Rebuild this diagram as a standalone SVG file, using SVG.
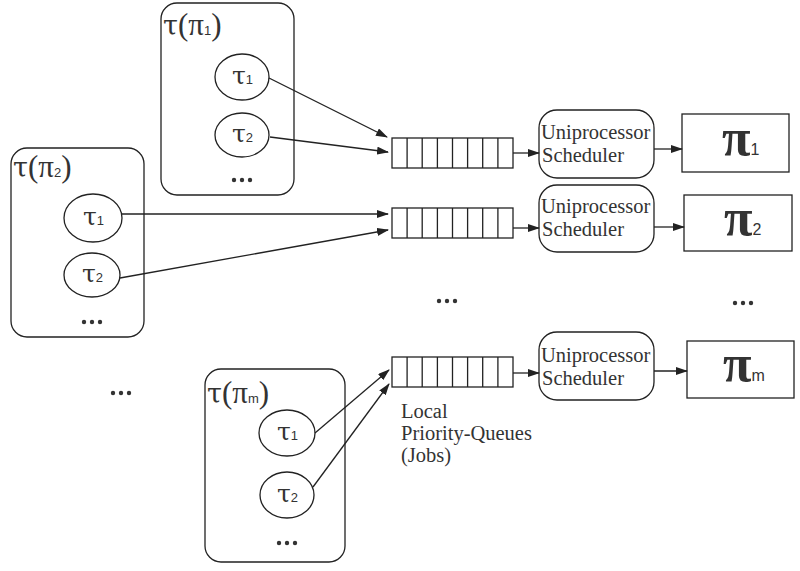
<svg xmlns="http://www.w3.org/2000/svg" width="800" height="571" viewBox="0 0 800 571">
<style>
.box{fill:none;stroke:#222;stroke-width:1.3}
.ln{fill:none;stroke:#222;stroke-width:1.3}
.t{font-family:"Liberation Serif",serif;fill:#333}
.g{font-family:"DejaVu Serif",serif;fill:#333}
.s{font-family:"Liberation Sans",sans-serif;fill:#333}
.grp{font-size:27px}
.gp{font-family:"Liberation Serif",serif;font-size:31px}
.tau{font-size:25px}
.sub{font-size:13px}
.sch{font-size:20.5px}
.pi{font-size:52px;font-weight:bold}
.psub{font-family:"Liberation Sans",sans-serif;font-size:16px;font-weight:normal}
.dots{fill:#333}
</style>
<defs>
<marker id="ah" markerWidth="12" markerHeight="8" refX="11" refY="4" orient="auto" markerUnits="userSpaceOnUse">
<path d="M0,0 L12,4 L0,8 Z" fill="#222"/>
</marker>
<g id="q">
<rect x="0" y="0" width="121" height="30" class="box"/>
<path class="ln" d="M15.1,0V30M30.2,0V30M45.4,0V30M60.5,0V30M75.6,0V30M90.7,0V30M105.9,0V30"/>
</g>
<g id="dd"><circle cx="-8" cy="0" r="2.2"/><circle cx="0" cy="0" r="2.2"/><circle cx="8" cy="0" r="2.2"/></g>
</defs>

<g id="tasks1">
<rect x="161" y="3" width="133" height="192" rx="16" class="box"/>
<text x="163" y="35" class="g grp">τ<tspan class="gp">(π</tspan><tspan class="s sub">1</tspan><tspan class="gp">)</tspan></text>
<ellipse cx="242" cy="77" rx="27" ry="23" class="box"/>
<text x="232" y="84" class="g tau">τ<tspan class="s sub">1</tspan></text>
<ellipse cx="242" cy="135" rx="27" ry="22" class="box"/>
<text x="232" y="142" class="g tau">τ<tspan class="s sub">2</tspan></text>
<use href="#dd" x="242" y="180" class="dots"/>
</g>

<g id="tasks2">
<rect x="11" y="148" width="133" height="189" rx="16" class="box"/>
<text x="13" y="177" class="g grp">τ<tspan class="gp">(π</tspan><tspan class="s sub">2</tspan><tspan class="gp">)</tspan></text>
<ellipse cx="93" cy="218" rx="29" ry="24" class="box"/>
<text x="83" y="225" class="g tau">τ<tspan class="s sub">1</tspan></text>
<ellipse cx="92" cy="275" rx="28" ry="22" class="box"/>
<text x="82" y="282" class="g tau">τ<tspan class="s sub">2</tspan></text>
<use href="#dd" x="92" y="322" class="dots"/>
</g>

<g id="tasksm">
<rect x="205" y="369" width="140" height="193" rx="16" class="box"/>
<text x="207" y="403" class="g grp">τ<tspan class="gp">(π</tspan><tspan class="s sub">m</tspan><tspan class="gp">)</tspan></text>
<ellipse cx="287" cy="433" rx="28" ry="23" class="box"/>
<text x="277" y="440" class="g tau">τ<tspan class="s sub">1</tspan></text>
<ellipse cx="287" cy="495" rx="27" ry="23" class="box"/>
<text x="277" y="502" class="g tau">τ<tspan class="s sub">2</tspan></text>
<use href="#dd" x="287" y="543" class="dots"/>
</g>

<g id="queue1"><use href="#q" x="392" y="138"/></g>
<g id="queue2"><use href="#q" x="392" y="208"/></g>
<g id="queue3"><use href="#q" x="392" y="357"/></g>

<g id="sched1">
<rect x="539" y="110" width="115" height="68" rx="18" class="box"/>
<text x="541" y="139" class="t sch">Uniprocessor</text>
<text x="542" y="162" class="t sch">Scheduler</text>
</g>
<g id="sched2">
<rect x="539" y="185" width="115" height="67" rx="18" class="box"/>
<text x="541" y="213" class="t sch">Uniprocessor</text>
<text x="542" y="236" class="t sch">Scheduler</text>
</g>
<g id="sched3">
<rect x="539" y="332" width="115" height="68" rx="18" class="box"/>
<text x="541" y="362" class="t sch">Uniprocessor</text>
<text x="542" y="385" class="t sch">Scheduler</text>
</g>

<g id="proc1">
<rect x="682" y="114" width="107" height="58" class="box"/>
<text x="722" y="155" class="t pi">π<tspan class="psub">1</tspan></text>
</g>
<g id="proc2">
<rect x="684" y="195" width="108" height="56" class="box"/>
<text x="724" y="235" class="t pi">π<tspan class="psub">2</tspan></text>
</g>
<g id="procm">
<rect x="687" y="341" width="107" height="57" class="box"/>
<text x="723" y="381" class="t pi">π<tspan class="psub">m</tspan></text>
</g>

<g id="labels">
<text x="401" y="418" class="t sch">Local</text>
<text x="401" y="440" class="t sch">Priority-Queues</text>
<text x="401" y="462" class="t sch">(Jobs)</text>
<use href="#dd" x="121" y="393" class="dots"/>
<use href="#dd" x="447" y="301" class="dots"/>
<use href="#dd" x="743" y="303" class="dots"/>
</g>

<g id="connectors">
<line x1="269" y1="78" x2="387" y2="137" class="ln" marker-end="url(#ah)"/>
<line x1="270" y1="137" x2="388" y2="152" class="ln" marker-end="url(#ah)"/>
<line x1="122" y1="214" x2="388" y2="214" class="ln" marker-end="url(#ah)"/>
<line x1="120" y1="278" x2="388" y2="230" class="ln" marker-end="url(#ah)"/>
<line x1="315" y1="433" x2="389" y2="370" class="ln" marker-end="url(#ah)"/>
<line x1="313" y1="487" x2="389" y2="384" class="ln" marker-end="url(#ah)"/>
<line x1="513" y1="153" x2="539" y2="153" class="ln" marker-end="url(#ah)"/>
<line x1="513" y1="228" x2="539" y2="228" class="ln" marker-end="url(#ah)"/>
<line x1="513" y1="373" x2="539" y2="373" class="ln" marker-end="url(#ah)"/>
<line x1="654" y1="149" x2="682" y2="149" class="ln" marker-end="url(#ah)"/>
<line x1="654" y1="227" x2="684" y2="227" class="ln" marker-end="url(#ah)"/>
<line x1="654" y1="371" x2="687" y2="371" class="ln" marker-end="url(#ah)"/>
</g>
</svg>
